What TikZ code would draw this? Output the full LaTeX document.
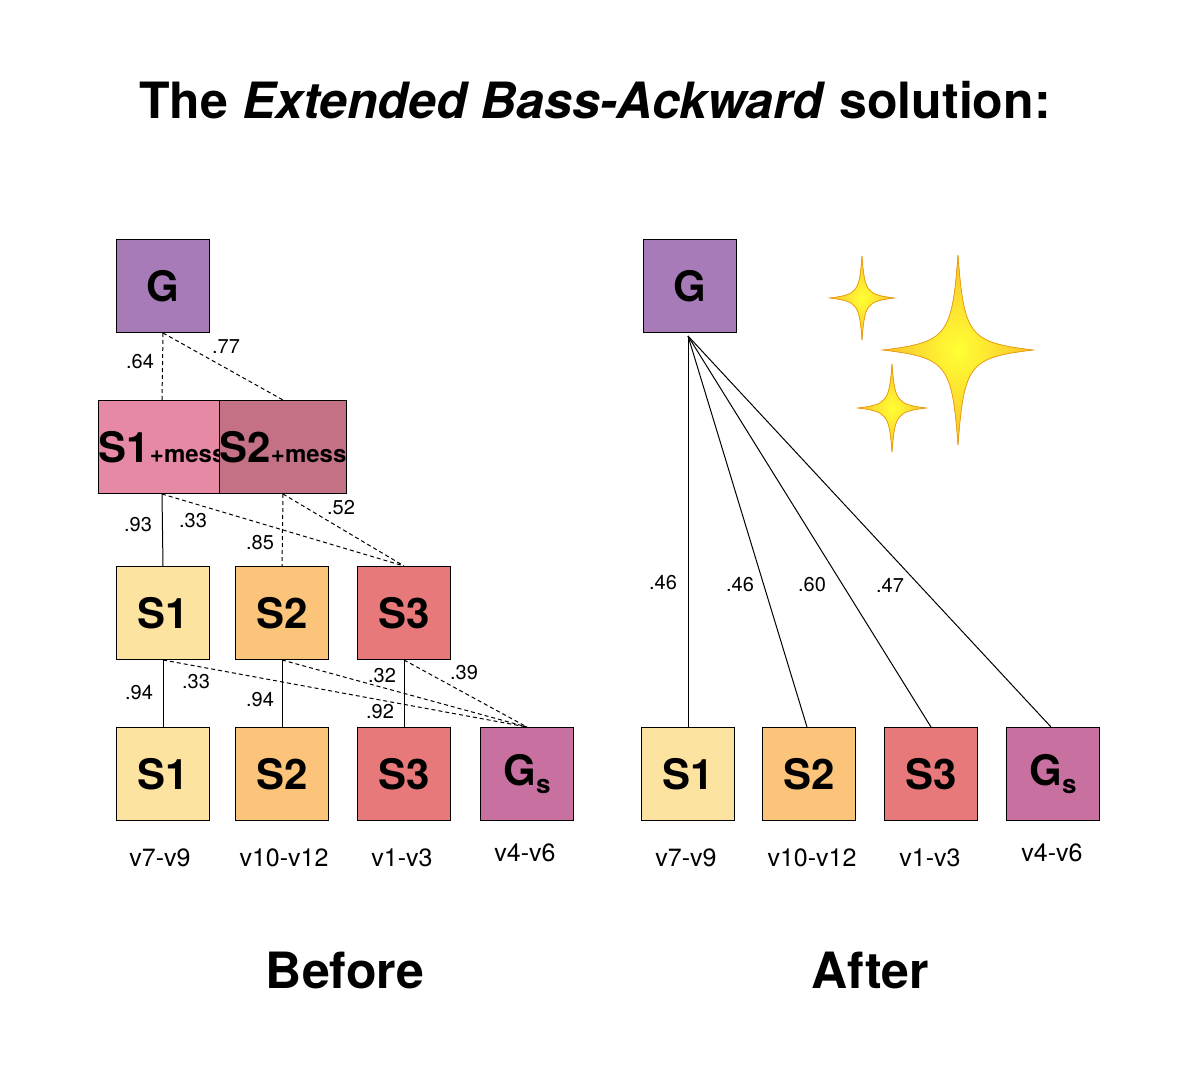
\documentclass[tikz,border=0pt]{standalone}
\usepackage{fontspec}
\setmainfont{TeX Gyre Heros}
\begin{document}
\begin{tikzpicture}[x=1pt,y=-1pt,
  box/.style={draw=black,line width=1pt,minimum size=93pt,inner sep=0pt,font=\fontsize{42}{42}\selectfont\bfseries},
  mbox/.style={box,align=center,font=\fontsize{38}{34}\selectfont\bfseries},
  lab/.style={font=\fontsize{20}{20}\selectfont,inner sep=1pt},
  vl/.style={font=\fontsize{25}{25}\selectfont},
  dl/.style={dashed,line width=1pt,dash pattern=on 4pt off 3pt},
  sl/.style={line width=1pt}]
\definecolor{cg}{HTML}{A77BB8}
\definecolor{cm1}{HTML}{E589A5}
\definecolor{cm2}{HTML}{C47186}
\definecolor{cy}{HTML}{FDE3A0}
\definecolor{co}{HTML}{FBC47A}
\definecolor{cr}{HTML}{E8797A}
\definecolor{cs}{HTML}{C8709F}
\definecolor{gold}{HTML}{F9C22E}
\definecolor{goldd}{HTML}{F0A010}
\useasboundingbox (0,0) rectangle (1200,1065);
\node[font=\fontsize{50}{50}\selectfont\bfseries] (title) at (595,100) {The \textit{Extended Bass-Ackward} solution:};
% left
\node[box,fill=cg] (G) at (163,286) {G};
\node[box,fill=cm1] (M1) at (162,447) {S1\\[-4pt]{\fontsize{24}{24}\selectfont +mess}};
\node[box,fill=cm2] (M2) at (283,447) {S2\\[-4pt]{\fontsize{24}{24}\selectfont +mess}};
\node[box,fill=cy] (A1) at (163,613) {S1};
\node[box,fill=co] (A2) at (282,613) {S2};
\node[box,fill=cr] (A3) at (404,613) {S3};
\node[box,fill=cy] (B1) at (163,774) {S1};
\node[box,fill=co] (B2) at (282,774) {S2};
\node[box,fill=cr] (B3) at (404,774) {S3};
\node[box,fill=cs] (B4) at (527,774) {G\raisebox{-0.35ex}{\fontsize{26}{26}\selectfont s}};
\node[vl] (v1) at (160,858) {v7-v9};
\node[vl] (v2) at (284,858) {v10-v12};
\node[vl] (v3) at (402,858) {v1-v3};
\node[vl] (v4) at (525,853) {v4-v6};
\draw[dl] (G.south) -- (M1.north);
\draw[dl] (G.south) -- (M2.north);
\draw[sl] (M1.south) -- (A1.north);
\draw[dl] (M1.south) -- (A3.north);
\draw[dl] (M2.south) -- (A2.north);
\draw[dl] (M2.south) -- (A3.north);
\draw[sl] (A1.south) -- (B1.north);
\draw[dl] (A1.south) -- (B4.north);
\draw[sl] (A2.south) -- (B2.north);
\draw[dl] (A2.south) -- (B4.north);
\draw[sl] (A3.south) -- (B3.north);
\draw[dl] (A3.south) -- (B4.north);
\node[lab,fill=white] (l1) at (140,362) {.64};
\node[lab] (l2) at (226,347) {.77};
\node[lab] (l3) at (138,525) {.93};
\node[lab] (l4) at (193,521) {.33};
\node[lab,fill=white] (l5) at (260,543) {.85};
\node[lab] (l6) at (341,508) {.52};
\node[lab] (l7) at (139,693) {.94};
\node[lab] (l8) at (196,682) {.33};
\node[lab,fill=white] (l9) at (260,700) {.94};
\node[lab] (l10) at (382,676) {.32};
\node[lab] (l11) at (380,712) {.92};
\node[lab] (l12) at (464,673) {.39};
\node[font=\fontsize{50}{50}\selectfont\bfseries] (bef) at (345,970) {Before};
% right
\node[box,fill=cg] (RG) at (690,286) {G};
\coordinate (rg) at (688,336);
\node[box,fill=cy] (R1) at (688,774) {S1};
\node[box,fill=co] (R2) at (809,774) {S2};
\node[box,fill=cr] (R3) at (931,774) {S3};
\node[box,fill=cs] (R4) at (1053,774) {G\raisebox{-0.35ex}{\fontsize{26}{26}\selectfont s}};
\node[vl] (w1) at (686,858) {v7-v9};
\node[vl] (w2) at (812,858) {v10-v12};
\node[vl] (w3) at (930,858) {v1-v3};
\node[vl] (w4) at (1052,853) {v4-v6};
\draw[sl] (rg) -- (R1.north);
\draw[sl] (rg) -- ([xshift=-2pt]R2.north);
\draw[sl] (rg) -- (R3.north);
\draw[sl] (rg) -- ([xshift=-2pt]R4.north);
\node[lab] (r1) at (663,583) {.46};
\node[lab] (r2) at (740,585) {.46};
\node[lab] (r3) at (812,585) {.60};
\node[lab] (r4) at (890,585) {.47};
\node[font=\fontsize{50}{50}\selectfont\bfseries] (aft) at (870,970) {After};
% sparkles
\foreach \cx/\cy/\rx/\ry in {958/350/75/95, 862/298/32/42, 892/408/34/44}{
  \fill[draw=goldd,line width=0.8pt,inner color=yellow!80!white,outer color=gold]
   (\cx,\cy-\ry) .. controls (\cx+0.08*\rx,\cy-0.15*\ry) and (\cx+0.15*\rx,\cy-0.08*\ry) .. (\cx+\rx,\cy)
   .. controls (\cx+0.15*\rx,\cy+0.08*\ry) and (\cx+0.08*\rx,\cy+0.15*\ry) .. (\cx,\cy+\ry)
   .. controls (\cx-0.08*\rx,\cy+0.15*\ry) and (\cx-0.15*\rx,\cy+0.08*\ry) .. (\cx-\rx,\cy)
   .. controls (\cx-0.15*\rx,\cy-0.08*\ry) and (\cx-0.08*\rx,\cy-0.15*\ry) .. cycle;
}
\end{tikzpicture}
\end{document}
